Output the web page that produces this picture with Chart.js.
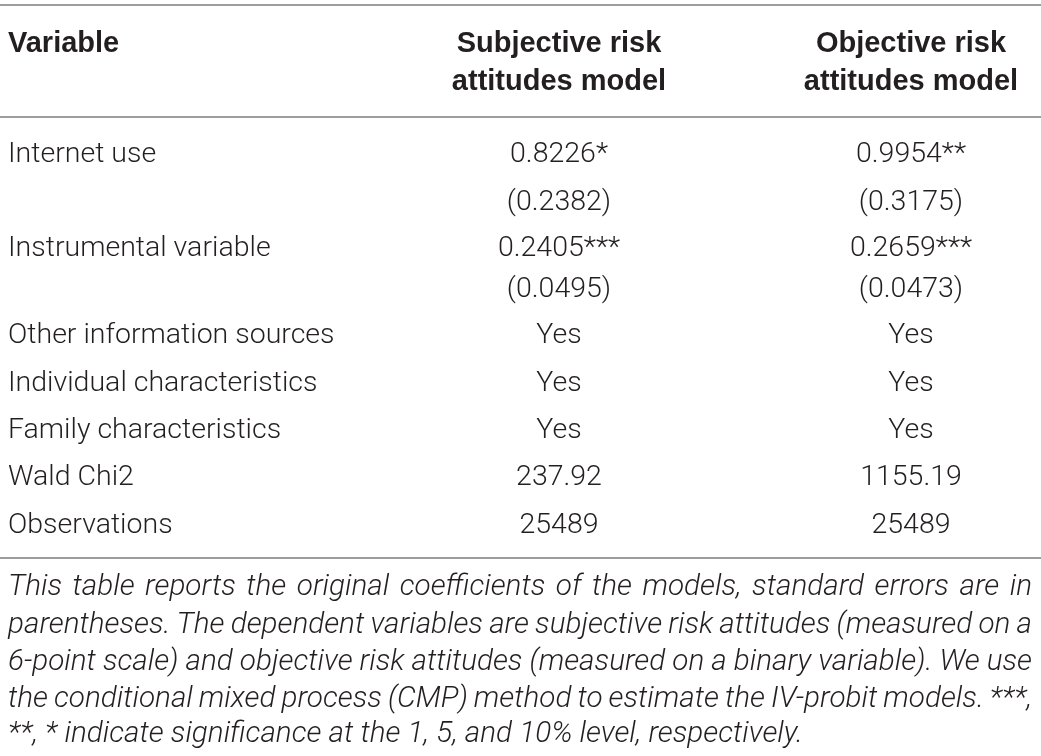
<!DOCTYPE html>
<html>
<head>
<meta charset="utf-8">
<script src="https://cdn.jsdelivr.net/npm/chart.js@4.4.1/dist/chart.umd.min.js"></script>
<style>
  html, body { margin: 0; padding: 0; background: #ffffff; }
  #wrap { width: 1041px; height: 756px; position: relative; }
</style>
</head>
<body>
<div id="wrap"><canvas id="c"></canvas></div>
<script>
// ---------- DATA ----------
const headerVariable = 'Variable';
const headerSubjective = ['Subjective risk', 'attitudes model'];
const headerObjective = ['Objective risk', 'attitudes model'];
const variables = ['Internet use', '', 'Instrumental variable', '', 'Other information sources',
  'Individual characteristics', 'Family characteristics', 'Wald Chi2', 'Observations'];
const subjectiveModel = ['0.8226*', '(0.2382)', '0.2405***', '(0.0495)', 'Yes', 'Yes', 'Yes', '237.92', '25489'];
const objectiveModel = ['0.9954**', '(0.3175)', '0.2659***', '(0.0473)', 'Yes', 'Yes', 'Yes', '1155.19', '25489'];
const noteLines = [
  'This table reports the original coefficients of the models, standard errors are in',
  'parentheses. The dependent variables are subjective risk attitudes (measured on a',
  '6-point scale) and objective risk attitudes (measured on a binary variable). We use',
  'the conditional mixed process (CMP) method to estimate the IV-probit models. ***,',
  '**, * indicate significance at the 1, 5, and 10% level, respectively.'
];

// ---------- LAYOUT (positions in scale units) ----------
const W = 1041, H = 756;
const colX = [8, 559, 911];
const headerBaselines = [52, 90];
const rowBaselines = [162, 210, 256, 297, 343, 391, 438, 485, 533];
const ruleYs = [5, 117, 558];
const noteBaselines = [595, 633, 670, 707, 742];
const noteLeft = 8, noteRight = 1032, noteLastWidth = 795;
const FAMILY = 'Roboto, "Liberation Sans", Arial, sans-serif';
const bodyFont = '300 28.5px ' + FAMILY;
const boldFont = '700 29px "Liberation Sans", Arial, sans-serif';
const noteFamily = 'italic 300 {S}px ' + FAMILY;
const textColor = '#231f20';
const ruleColor = '#9d9d9d';

// cell anchor points derived from the arrays
const cellPoints = [];
variables.forEach((v, i) => {
  cellPoints.push({ x: colX[0], y: rowBaselines[i], text: v, align: 'left' });
  cellPoints.push({ x: colX[1], y: rowBaselines[i], text: subjectiveModel[i], align: 'center' });
  cellPoints.push({ x: colX[2], y: rowBaselines[i], text: objectiveModel[i], align: 'center' });
});

const tablePlugin = {
  id: 'tablePlugin',
  afterDraw(chart) {
    const ctx = chart.ctx;
    const xs = chart.scales.x, ys = chart.scales.y;
    ctx.save();
    // rules
    ctx.strokeStyle = ruleColor;
    ctx.lineWidth = 2;
    ruleYs.forEach(y => {
      const py = ys.getPixelForValue(y);
      ctx.beginPath();
      ctx.moveTo(xs.getPixelForValue(0), py);
      ctx.lineTo(xs.getPixelForValue(W), py);
      ctx.stroke();
    });
    ctx.fillStyle = textColor;
    ctx.textBaseline = 'alphabetic';
    // header
    ctx.font = boldFont;
    ctx.textAlign = 'left';
    ctx.fillText(headerVariable, xs.getPixelForValue(colX[0]), ys.getPixelForValue(headerBaselines[0]));
    ctx.textAlign = 'center';
    headerSubjective.forEach((t, i) => ctx.fillText(t, xs.getPixelForValue(colX[1]), ys.getPixelForValue(headerBaselines[i])));
    headerObjective.forEach((t, i) => ctx.fillText(t, xs.getPixelForValue(colX[2]), ys.getPixelForValue(headerBaselines[i])));
    // body cells
    ctx.font = bodyFont;
    chart.data.datasets[0].data.forEach(p => {
      ctx.textAlign = p.align;
      ctx.fillText(p.text, xs.getPixelForValue(p.x), ys.getPixelForValue(p.y));
    });
    // note (justified), size fitted so the last line has the reference width
    ctx.font = noteFamily.replace('{S}', 26);
    const natural = ctx.measureText(noteLines[noteLines.length - 1]).width;
    const size = 26 * noteLastWidth / natural;
    ctx.font = noteFamily.replace('{S}', size.toFixed(2));
    ctx.textAlign = 'left';
    const left = xs.getPixelForValue(noteLeft), right = xs.getPixelForValue(noteRight);
    noteLines.forEach((line, i) => {
      const y = ys.getPixelForValue(noteBaselines[i]);
      if (i === noteLines.length - 1) {
        ctx.fillText(line, left, y);
        return;
      }
      const words = line.split(' ');
      const widths = words.map(w => ctx.measureText(w).width);
      const total = widths.reduce((a, b) => a + b, 0);
      const gap = (right - left - total) / (words.length - 1);
      let x = left;
      words.forEach((w, k) => { ctx.fillText(w, x, y); x += widths[k] + gap; });
    });
    ctx.restore();
  }
};

function build() {
  const canvas = document.getElementById('c');
  new Chart(canvas, {
    type: 'scatter',
    data: { datasets: [{ data: cellPoints, pointRadius: 0, pointHoverRadius: 0, showLine: false }] },
    options: {
      responsive: false,
      maintainAspectRatio: false,
      animation: false,
      events: [],
      layout: { padding: 0 },
      plugins: { legend: { display: false }, tooltip: { enabled: false } },
      scales: {
        x: { type: 'linear', min: 0, max: W, display: false },
        y: { type: 'linear', min: 0, max: H, reverse: true, display: false }
      }
    },
    plugins: [tablePlugin]
  });
}
const cv = document.getElementById('c');
cv.width = W; cv.height = H;
cv.style.width = W + 'px'; cv.style.height = H + 'px';
Promise.all([
  document.fonts.load(bodyFont), document.fonts.load(boldFont), document.fonts.load(noteFamily.replace('{S}', 26))
]).then(build, build);
</script>
</body>
</html>
